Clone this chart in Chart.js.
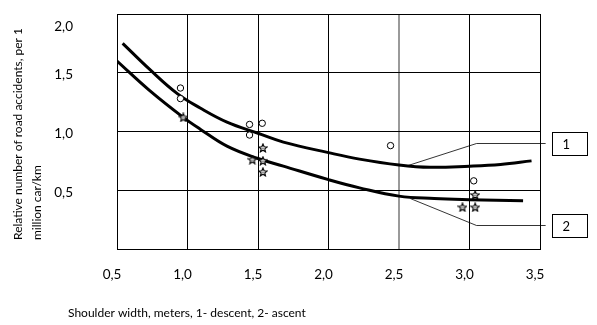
<!DOCTYPE html>
<html>
<head>
<meta charset="utf-8">
<script src="https://cdn.jsdelivr.net/npm/chart.js@4.4.1/dist/chart.umd.min.js"></script>
<style>
  html, body { margin: 0; padding: 0; background: #fff; }
  #wrap { width: 597px; height: 325px; }
</style>
</head>
<body>
<div id="wrap"><canvas id="myChart"></canvas></div>
<script>
// axis ticks
const xTicks = [0.5, 1.0, 1.5, 2.0, 2.5, 3.0, 3.5];
const xTickLabels = ['0,5', '1,0', '1,5', '2,0', '2,5', '3,0', '3,5'];
const yTicks = [0, 0.5, 1.0, 1.5, 2.0];
const yTickLabels = ['', '0,5', '1,0', '1,5', '2,0'];

// curve 1 - descent
const descentX = [0.54, 0.73, 0.93, 1.09, 1.28, 1.50, 1.68, 2.00, 2.22, 2.50, 2.72, 3.00, 3.22, 3.44];
const descentY = [1.75, 1.53, 1.32, 1.20, 1.08, 0.985, 0.91, 0.82, 0.765, 0.715, 0.695, 0.705, 0.72, 0.75];

// curve 2 - ascent
const ascentX = [0.50, 0.73, 0.97, 1.09, 1.28, 1.50, 1.68, 2.00, 2.22, 2.50, 2.75, 3.00, 3.38];
const ascentY = [1.60, 1.35, 1.12, 1.02, 0.875, 0.77, 0.705, 0.59, 0.52, 0.45, 0.43, 0.42, 0.41];

// observed values, descent (circles)
const circleX = [0.95, 0.95, 1.44, 1.44, 1.53, 2.44, 3.03];
const circleY = [1.37, 1.28, 1.06, 0.97, 1.07, 0.88, 0.58];

// observed values, ascent (stars)
const starX = [0.97, 1.535, 1.46, 1.535, 1.535, 3.04, 2.95, 3.04];
const starY = [1.12, 0.86, 0.76, 0.75, 0.655, 0.46, 0.355, 0.355];

const curveNames = ['1', '2'];
const xTitle = 'Shoulder width, meters, 1- descent, 2- ascent';
const yTitle = ['Relative number of road accidents, per 1', 'million car/km'];

const zip = (xs, ys) => xs.map((x, i) => ({ x: x, y: ys[i] }));

// outlined five-point star for the ascent points
function makeStar(size) {
    const c = document.createElement('canvas');
    c.width = size;
    c.height = size;
    const g = c.getContext('2d');
    const cx = size / 2, cy = size / 2 + 0.3;
    const ro = size / 2 - 0.7, ri = ro * 0.45;
    g.beginPath();
    for (let i = 0; i < 10; i++) {
        const r = i % 2 ? ri : ro;
        const a = -Math.PI / 2 + i * Math.PI / 5;
        g.lineTo(cx + r * Math.cos(a), cy + r * Math.sin(a));
    }
    g.closePath();
    g.fillStyle = '#fff';
    g.fill();
    g.strokeStyle = '#000';
    g.lineWidth = 1.15;
    g.stroke();
    // small grey centre
    g.beginPath();
    g.arc(cx, cy, ri * 0.45, 0, Math.PI * 2);
    g.fillStyle = '#777';
    g.fill();
    return c;
}

const fontFamily = 'Lato, "Open Sans", sans-serif';
const titleFont = '12px ' + fontFamily;

// leader lines from each curve to its numbered box, in axis units
const leaders = [
    { path: [[2.565, 0.715], [3.05, 0.90], [3.54, 0.90]], box: [3.585, 0.995, 3.83, 0.80] },
    { path: [[2.58, 0.434], [3.05, 0.205], [3.54, 0.205]], box: [3.585, 0.30, 3.83, 0.10] }
];

const captions = {
    id: 'captions',
    afterDraw(chart) {
        const { ctx, scales: { x, y } } = chart;
        ctx.save();
        ctx.strokeStyle = '#000';
        ctx.fillStyle = '#000';

        leaders.forEach((l, i) => {
            ctx.lineWidth = 0.8;
            ctx.beginPath();
            l.path.forEach((p, j) => {
                const px = x.getPixelForValue(p[0]), py = Math.round(y.getPixelForValue(p[1])) + 0.5;
                if (j === 0) ctx.moveTo(px, py); else ctx.lineTo(px, py);
            });
            ctx.stroke();

            const bx1 = Math.round(x.getPixelForValue(l.box[0])) + 0.5;
            const by1 = Math.round(y.getPixelForValue(l.box[1])) + 0.5;
            const bx2 = Math.round(x.getPixelForValue(l.box[2])) + 0.5;
            const by2 = Math.round(y.getPixelForValue(l.box[3])) + 0.5;
            ctx.lineWidth = 1;
            ctx.strokeRect(bx1, by1, bx2 - bx1, by2 - by1);

            ctx.font = '13px ' + fontFamily;
            ctx.textAlign = 'left';
            ctx.textBaseline = 'middle';
            ctx.fillText(curveNames[i], bx1 + 10, (by1 + by2) / 2 + 0.5);
        });

        // axis titles
        ctx.font = titleFont;
        ctx.textAlign = 'left';
        ctx.textBaseline = 'middle';
        ctx.fillText(xTitle, 68, 313);

        ctx.translate(0, 240);
        ctx.rotate(-Math.PI / 2);
        yTitle.forEach((line, i) => ctx.fillText(line, 0, 18 + i * 19));
        ctx.restore();
    }
};

window.addEventListener('DOMContentLoaded', () => {
    const star = makeStar(10);
    const ctx = document.getElementById('myChart').getContext('2d');

    new Chart(ctx, {
        type: 'scatter',
        data: {
            datasets: [{
                data: zip(circleX, circleY),
                pointStyle: 'circle',
                pointRadius: 3.2,
                pointBackgroundColor: '#fff',
                pointBorderColor: '#000',
                pointBorderWidth: 1
            }, {
                data: zip(starX, starY),
                pointStyle: star,
                pointRadius: 5
            }, {
                label: curveNames[0],
                data: zip(descentX, descentY),
                showLine: true,
                borderColor: '#000',
                borderWidth: 3,
                pointRadius: 0,
                tension: 0.4
            }, {
                label: curveNames[1],
                data: zip(ascentX, ascentY),
                showLine: true,
                borderColor: '#000',
                borderWidth: 3,
                pointRadius: 0,
                tension: 0.4
            }]
        },
        options: {
            responsive: true,
            maintainAspectRatio: false,
            animation: false,
            layout: { padding: { top: 14, right: 57, bottom: 0, left: 0 } },
            plugins: {
                legend: { display: false },
                tooltip: { enabled: false }
            },
            scales: {
                x: {
                    type: 'linear',
                    min: 0.5,
                    max: 3.5,
                    afterBuildTicks: s => { s.ticks = xTicks.map(v => ({ value: v })); },
                    afterFit: s => {
                        s.height = 76;
                        s.paddingLeft = 0;
                        s.paddingRight = 0;
                    },
                    grid: {
                        color: c => c.tick && c.tick.value === 2.5 ? '#9a9a9a' : '#000',
                        lineWidth: c => c.tick && c.tick.value === 2.5 ? 2 : 1,
                        drawTicks: false
                    },
                    border: { color: '#000', width: 1 },
                    ticks: {
                        padding: 18,
                        labelOffset: -5,
                        maxRotation: 0,
                        autoSkip: false,
                        color: '#000',
                        font: { family: fontFamily, size: 13.5 },
                        callback: (val, index) => xTickLabels[index]
                    }
                },
                y: {
                    min: 0,
                    max: 2.0,
                    afterBuildTicks: s => { s.ticks = yTicks.map(v => ({ value: v })); },
                    afterFit: s => {
                        s.width = 117;
                        s.paddingTop = 0;
                        s.paddingBottom = 0;
                    },
                    grid: { color: '#000', lineWidth: 1, drawTicks: false },
                    border: { color: '#000', width: 1 },
                    ticks: {
                        padding: 44,
                        labelOffset: 2,
                        autoSkip: false,
                        color: '#000',
                        // the top label sits a little lower, under the frame
                        font: c => ({
                            family: fontFamily,
                            size: 13.5,
                            lineHeight: c.tick && c.tick.value === 2 ? '22px' : 1.2
                        }),
                        callback: (val, index) => index === yTicks.length - 1 ? ['', yTickLabels[index]] : yTickLabels[index]
                    }
                }
            }
        },
        plugins: [captions]
    });
});
</script>
</body>
</html>
